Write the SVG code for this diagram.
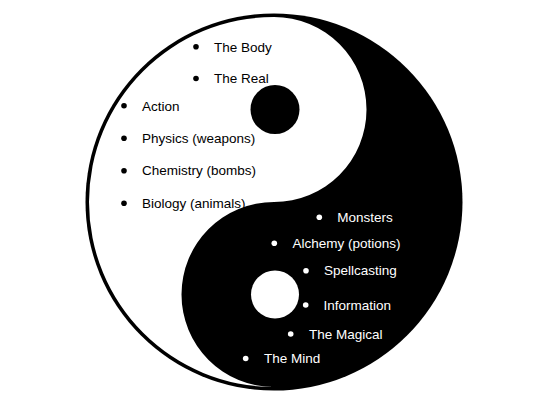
<svg xmlns="http://www.w3.org/2000/svg" width="540" height="405" viewBox="0 0 540 405">
<style>
text{font-family:"Liberation Sans",Arial,sans-serif;font-size:13.5px}
.d{fill:#000}
.l{fill:#fff}
</style>
<rect width="540" height="405" fill="#fff"/>
<g id="yinyang">
<circle cx="274" cy="202" r="188.5" fill="#000"/>
<path fill="#fff" d="M274,17 A185,185 0 0 0 274,387 A92.5,92.5 0 0 1 274,202 A92.5,92.5 0 0 0 274,17 Z"/>
<circle cx="275" cy="109.5" r="24.5" fill="#000"/>
<circle cx="275" cy="294.5" r="24" fill="#fff"/>
</g>
<g id="yang-list">
<g id="body"><circle class="d" cx="196" cy="46.7" r="2.8"/><text class="d" x="214" y="51.5">The Body</text></g>
<g id="real"><circle class="d" cx="196" cy="78.5" r="2.8"/><text class="d" x="214" y="83">The Real</text></g>
<g id="action"><circle class="d" cx="124" cy="105.7" r="2.8"/><text class="d" x="142" y="110.5">Action</text></g>
<g id="physics"><circle class="d" cx="124" cy="138.3" r="2.8"/><text class="d" x="142" y="142.8">Physics (weapons)</text></g>
<g id="chemistry"><circle class="d" cx="124" cy="170.7" r="2.8"/><text class="d" x="142" y="175.3">Chemistry (bombs)</text></g>
<g id="biology"><circle class="d" cx="124" cy="203.2" r="2.8"/><text class="d" x="142" y="207.5">Biology (animals)</text></g>
</g>
<g id="yin-list">
<g id="monsters"><circle class="l" cx="319.3" cy="217.3" r="2.8"/><text class="l" x="337.3" y="222">Monsters</text></g>
<g id="alchemy"><circle class="l" cx="274.3" cy="243.3" r="2.8"/><text class="l" x="292.5" y="248">Alchemy (potions)</text></g>
<g id="spellcasting"><circle class="l" cx="306" cy="270.7" r="2.8"/><text class="l" x="324" y="275.3">Spellcasting</text></g>
<g id="information"><circle class="l" cx="305.7" cy="305" r="2.8"/><text class="l" x="323.5" y="309.5">Information</text></g>
<g id="magical"><circle class="l" cx="290.7" cy="334" r="2.8"/><text class="l" x="309" y="338.5">The Magical</text></g>
<g id="mind"><circle class="l" cx="245.7" cy="358.5" r="2.8"/><text class="l" x="264" y="363">The Mind</text></g>
</g>
</svg>
